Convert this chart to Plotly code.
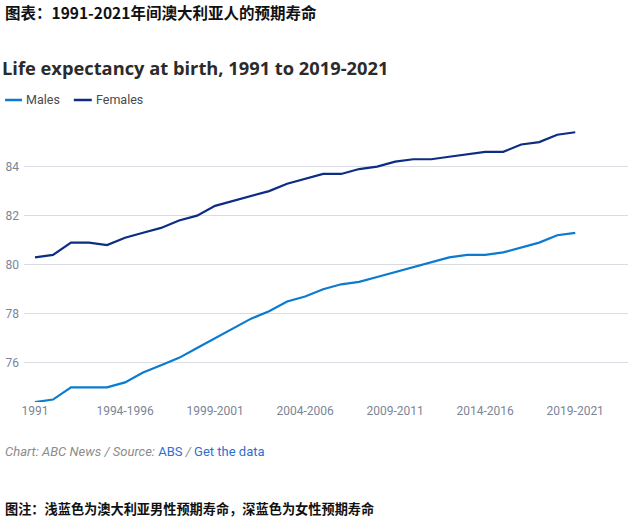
import plotly.graph_objects as go

periods = ["1991", "1992", "1993", "1994", "1993-1995", "1994-1996", "1995-1997", "1996-1998",
           "1997-1999", "1998-2000", "1999-2001", "2000-2002", "2001-2003", "2002-2004",
           "2003-2005", "2004-2006", "2005-2007", "2006-2008", "2007-2009", "2008-2010",
           "2009-2011", "2010-2012", "2011-2013", "2012-2014", "2013-2015", "2014-2016",
           "2015-2017", "2016-2018", "2017-2019", "2018-2020", "2019-2021"]
males = [74.4, 74.5, 75.0, 75.0, 75.0, 75.2, 75.6, 75.9, 76.2, 76.6, 77.0, 77.4, 77.8, 78.1,
         78.5, 78.7, 79.0, 79.2, 79.3, 79.5, 79.7, 79.9, 80.1, 80.3, 80.4, 80.4, 80.5, 80.7,
         80.9, 81.2, 81.3]
females = [80.3, 80.4, 80.9, 80.9, 80.8, 81.1, 81.3, 81.5, 81.8, 82.0, 82.4, 82.6, 82.8, 83.0,
           83.3, 83.5, 83.7, 83.7, 83.9, 84.0, 84.2, 84.3, 84.3, 84.4, 84.5, 84.6, 84.6, 84.9,
           85.0, 85.3, 85.4]
tick_labels = ["1991", "1994-1996", "1999-2001", "2004-2006", "2009-2011", "2014-2016", "2019-2021"]
y_ticks = [76, 78, 80, 82, 84]

MALE_C = "#0a7bd0"
FEMALE_C = "#0c2d83"

W, H = 633, 524
L, R, T, B = 22, 5, 120, 122
PW, PH = W - L - R, H - T - B

def px(x):
    return (x - L) / PW

def py(y):
    return (H - B - y) / PH

x_idx = list(range(len(periods)))
tick_idx = [periods.index(t) for t in tick_labels]

fig = go.Figure()
fig.add_trace(go.Scatter(x=x_idx, y=males, mode="lines", name="Males",
                         line=dict(color=MALE_C, width=2.2), showlegend=False))
fig.add_trace(go.Scatter(x=x_idx, y=females, mode="lines", name="Females",
                         line=dict(color=FEMALE_C, width=2.2), showlegend=False))

fig.update_xaxes(range=[-0.61, 32.93], tickmode="array", tickvals=tick_idx, ticktext=tick_labels,
                 showgrid=False, zeroline=False, showline=False, ticks="",
                 tickfont=dict(family="Roboto", size=12, color="#7b8597"))
fig.update_yaxes(range=[74.4, 85.9], tickmode="array", tickvals=y_ticks,
                 showgrid=True, gridcolor="#d9dce3", gridwidth=1, zeroline=False,
                 showline=False, ticks="", ticklabelstandoff=4,
                 tickfont=dict(family="Roboto", size=12, color="#7b8597"))

shapes = []
annotations = []
# custom legend
for x0, x1, tx, label, c in [(3, 20, 22, "Males", MALE_C), (72, 90, 92, "Females", FEMALE_C)]:
    shapes.append(dict(type="line", xref="paper", yref="paper", x0=px(x0), x1=px(x1),
                       y0=py(100), y1=py(100), line=dict(color=c, width=2.5)))
    annotations.append(dict(xref="paper", yref="paper", x=px(tx), y=py(100), text=label,
                            showarrow=False, xanchor="left", yanchor="middle",
                            font=dict(family="Roboto", size=12.5, color="#4a4a4a")))

annotations.append(dict(xref="paper", yref="paper", x=px(1), y=py(12),
                        text="<b>图表：1991-2021年间澳大利亚人的预期寿命</b>",
                        showarrow=False, xanchor="left", yanchor="middle",
                        font=dict(family="Noto Sans CJK SC", size=15.5, color="#111111")))
annotations.append(dict(xref="paper", yref="paper", x=px(1), y=py(451),
                        text="<i>Chart: ABC News / Source: </i><span style='color:#2d6fd2'>ABS</span>"
                             "<i> / </i><span style='color:#2d6fd2'>Get the data</span>",
                        showarrow=False, xanchor="left", yanchor="middle",
                        font=dict(family="Roboto", size=13, color="#8c8c8c")))
annotations.append(dict(xref="paper", yref="paper", x=px(1), y=py(508),
                        text="<b>图注：浅蓝色为澳大利亚男性预期寿命，深蓝色为女性预期寿命</b>",
                        showarrow=False, xanchor="left", yanchor="middle",
                        font=dict(family="Noto Sans CJK SC", size=13.2, color="#111111")))

fig.update_layout(
    width=W, height=H,
    margin=dict(l=L, r=R, t=T, b=B),
    paper_bgcolor="white", plot_bgcolor="white",
    title=dict(text="<b>Life expectancy at birth, 1991 to 2019-2021</b>",
               xref="container", yref="container", x=2 / W, xanchor="left",
               y=1 - 69 / H, yanchor="middle",
               font=dict(family="Open Sans", size=18.3, color="#2b2b2b")),
    shapes=shapes, annotations=annotations, showlegend=False,
)

fig.write_html("out.html", config={"displayModeBar": False},
               post_script="document.body.style.margin='0';document.body.style.overflow='hidden';")
